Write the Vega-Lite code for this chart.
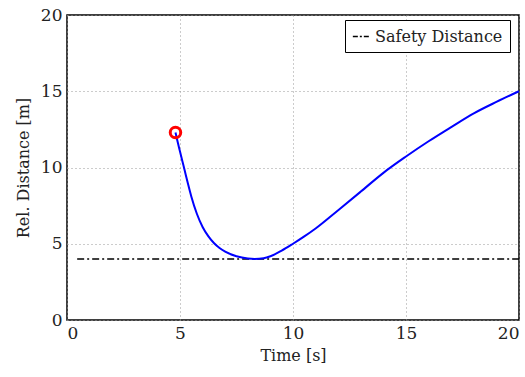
{
  "$schema": "https://vega.github.io/schema/vega-lite/v6.json",
  "width": 452,
  "height": 305,
  "autosize": {"type": "none"},
  "padding": {"left": 67, "top": 15, "right": 6, "bottom": 57},
  "background": "white",
  "config": {
    "font": "DejaVu Serif",
    "view": {"stroke": "black", "strokeWidth": 1.5},
    "axis": {
      "grid": true,
      "gridColor": "#999999",
      "gridDash": [1, 3],
      "gridWidth": 1,
      "domain": false,
      "ticks": false,
      "labelFont": "DejaVu Serif",
      "labelFontSize": 17,
      "labelColor": "#222222",
      "titleFont": "DejaVu Serif",
      "titleFontSize": 16,
      "titleFontWeight": "normal",
      "titleColor": "#222222"
    }
  },
  "datasets": {
    "curve": [
      {"t": 4.8, "d": 12.3},
      {"t": 4.9, "d": 11.65},
      {"t": 5.0, "d": 11.05},
      {"t": 5.1, "d": 10.45},
      {"t": 5.2, "d": 9.85},
      {"t": 5.35, "d": 8.95},
      {"t": 5.5, "d": 8.1},
      {"t": 5.75, "d": 6.95},
      {"t": 6.0, "d": 6.1},
      {"t": 6.25, "d": 5.5},
      {"t": 6.5, "d": 5.05},
      {"t": 6.75, "d": 4.72},
      {"t": 7.0, "d": 4.48},
      {"t": 7.5, "d": 4.18},
      {"t": 8.0, "d": 4.03},
      {"t": 8.3, "d": 4.0},
      {"t": 8.7, "d": 4.05},
      {"t": 9.0, "d": 4.18},
      {"t": 9.5, "d": 4.55},
      {"t": 10.0, "d": 5.0},
      {"t": 10.5, "d": 5.48},
      {"t": 11.0, "d": 6.0},
      {"t": 12.0, "d": 7.2},
      {"t": 13.0, "d": 8.42},
      {"t": 14.0, "d": 9.65},
      {"t": 15.0, "d": 10.72},
      {"t": 16.0, "d": 11.72},
      {"t": 17.0, "d": 12.65},
      {"t": 18.0, "d": 13.55},
      {"t": 19.0, "d": 14.3},
      {"t": 20.0, "d": 15.0}
    ],
    "safety": [
      {"t": 0.45, "d": 4, "series": "Safety Distance"},
      {"t": 20, "d": 4, "series": "Safety Distance"}
    ],
    "start": [
      {"t": 4.8, "d": 12.3}
    ]
  },
  "layer": [
    {
      "data": {"name": "safety"},
      "mark": {"type": "line", "strokeDash": [7, 3, 2, 3], "strokeWidth": 1.5, "clip": true},
      "encoding": {
        "x": {
          "field": "t", "type": "quantitative",
          "scale": {"domain": [0, 20], "nice": false, "zero": false},
          "axis": {"values": [0, 5, 10, 15, 20], "title": "Time [s]", "labelPadding": 5, "titlePadding": 6}
        },
        "y": {
          "field": "d", "type": "quantitative",
          "scale": {"domain": [0, 20], "nice": false},
          "axis": {"values": [0, 5, 10, 15, 20], "title": "Rel. Distance [m]", "labelPadding": 5, "titlePadding": 9}
        },
        "stroke": {
          "field": "series", "type": "nominal",
          "scale": {"range": ["black"]},
          "legend": {
            "title": null,
            "orient": "none",
            "legendX": 278,
            "legendY": 5,
            "symbolType": "stroke",
            "symbolDash": [5, 2, 2, 2],
            "symbolStrokeWidth": 1.5,
            "symbolSize": 300,
            "symbolStrokeColor": "black",
            "labelFont": "DejaVu Serif",
            "labelFontSize": 16,
            "labelColor": "#222222",
            "strokeColor": "black",
            "fillColor": "white",
            "padding": 7,
            "cornerRadius": 0,
            "labelOffset": 4
          }
        }
      }
    },
    {
      "data": {"name": "curve"},
      "mark": {"type": "line", "color": "#0000ff", "strokeWidth": 2, "interpolate": "monotone"},
      "encoding": {
        "x": {"field": "t", "type": "quantitative"},
        "y": {"field": "d", "type": "quantitative"}
      }
    },
    {
      "data": {"name": "start"},
      "mark": {"type": "point", "shape": "circle", "filled": false, "color": "#ff0000", "strokeWidth": 3, "size": 110, "opacity": 1},
      "encoding": {
        "x": {"field": "t", "type": "quantitative"},
        "y": {"field": "d", "type": "quantitative"}
      }
    }
  ]
}
